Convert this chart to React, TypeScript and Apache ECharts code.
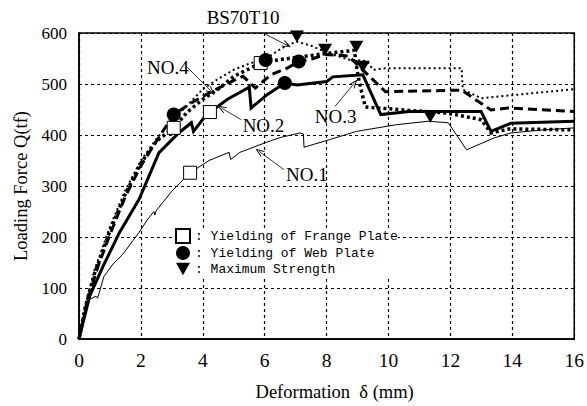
import React, { useEffect, useRef } from "react";
import * as echarts from "echarts";

// Deformation (mm), Loading force (tf)
const no1: [number, number][] = [
  [0, 0], [0.15, 45], [0.35, 78], [0.55, 84], [0.6, 80], [0.65, 90], [0.8, 122], [1.1, 147],
  [1.4, 165], [1.94, 209], [2.2, 233], [2.42, 250], [2.45, 243], [2.5, 252], [3.0, 290],
  [3.59, 326], [4.2, 350], [4.85, 366], [4.9, 352], [5.2, 366], [5.98, 384], [6.5, 395],
  [7.14, 404], [7.25, 402], [7.27, 376], [7.6, 382], [8.1, 391], [8.96, 407], [10.23, 420],
  [11.28, 427], [11.93, 424], [12.52, 371], [13.4, 394], [13.95, 404], [15, 410], [16, 414],
];
const no2: [number, number][] = [
  [0, 0], [0.35, 85], [0.78, 143], [1.31, 209], [1.94, 274], [2.58, 365], [3.22, 404],
  [3.63, 424], [3.7, 407], [4.07, 436], [4.23, 445], [4.8, 470], [5.45, 492], [5.5, 495],
  [5.56, 453], [6.1, 480], [6.65, 502], [7.04, 498], [8.0, 505], [8.2, 514], [9.17, 518],
  [9.75, 440], [10.66, 446], [12.99, 446], [13.31, 407], [13.95, 423], [16, 427],
];
const no3: [number, number][] = [
  [0, 0], [0.2, 62], [0.5, 128], [1, 212], [1.5, 285], [2, 345], [2.5, 388], [3.06, 414],
  [3.5, 445], [4, 470], [4.5, 490], [5, 515], [5.5, 530], [5.87, 541], [6.5, 548], [7, 552],
  [7.5, 556], [8, 560], [8.9, 566], [8.95, 540], [9.05, 505], [9.25, 455], [10.5, 449],
  [11.9, 443], [13, 430], [13.31, 404], [13.9, 412], [16, 410],
];
const no4: [number, number][] = [
  [0, 0], [0.25, 70], [0.6, 140], [1, 205], [1.5, 280], [2, 340], [2.5, 388], [3.06, 440],
  [3.6, 462], [4.28, 485], [5.13, 511], [5.3, 515], [5.7, 492], [6.19, 518], [6.72, 531],
  [7.1, 544], [7.57, 550], [7.95, 558], [8.7, 555], [9.3, 520], [9.9, 485], [12.36, 488],
  [13.31, 449], [13.85, 453], [16, 446],
];
const bs70t10: [number, number][] = [
  [0, 0], [0.2, 65], [0.5, 135], [1, 220], [1.5, 292], [2, 350], [2.5, 392], [3, 428],
  [3.5, 458], [4, 490], [4.5, 510], [5, 528], [5.5, 540], [6.03, 550], [6.5, 568],
  [6.72, 576], [7.04, 583], [7.5, 575], [8, 562], [8.7, 548], [9.3, 545], [9.5, 528],
  [9.9, 531], [12.36, 531], [12.4, 489], [13, 472], [14, 478], [16, 490],
];

const flangeYield: [number, number][] = [[3.59, 326], [4.23, 445], [3.06, 414], [5.87, 541]];
const webYield: [number, number][] = [[3.06, 440], [6.03, 547], [7.1, 544], [6.65, 502]];
const maxStrength: [number, number][] = [[7.04, 593], [7.95, 567], [8.96, 573], [9.17, 534], [11.35, 436]];

const curveLabelNames = ["BS70T10", "NO.4", "NO.2", "NO.1", "NO.3"];
const curveLabelPos: [number, number][] = [[5.3, 631], [2.87, 533], [5.96, 418], [7.36, 322], [8.29, 436]];
const arrowFrom: [number, number][] = [[5.98, 599], [3.48, 534], [5.24, 430], [6.62, 332], [8.27, 456]];
const arrowTo: [number, number][] = [[6.72, 576], [4.28, 485], [4.6, 453], [5.82, 368], [8.9, 502]];

const legendNames = ["Yielding of Frange Plate", "Yielding of Web Plate", "Maximum Strength"];

const SERIF = "'Liberation Serif', 'Times New Roman', serif";

export default function App() {
  const ref = useRef<HTMLDivElement>(null);
  useEffect(() => {
    document.body.style.margin = "0";
    const chart = echarts.init(ref.current!, null, { renderer: "svg" });
    const lineSeries = (name: string, data: [number, number][], width: number, type: any) => ({
      name,
      type: "line",
      data,
      showSymbol: false,
      symbol: "none",
      lineStyle: { color: "#000", width, type, cap: "butt", join: "miter" },
      z: 2,
    });
    chart.setOption({
      animation: false,
      backgroundColor: "#fff",
      grid: { left: 79, top: 33, width: 502, height: 307, show: true, borderColor: "#000", borderWidth: 1.5 },
      xAxis: {
        type: "value",
        min: 0,
        max: 16,
        interval: 2,
        name: "Deformation  δ (mm)",
        nameLocation: "middle",
        nameGap: 43,
        nameTextStyle: { fontFamily: SERIF, fontSize: 18.5, color: "#000", padding: [0, 0, 0, 16] },
        axisLine: { show: true, lineStyle: { color: "#000", width: 1.5 } },
        axisTick: { show: false },
        axisLabel: { fontFamily: SERIF, fontSize: 19.5, color: "#000", margin: 11 },
        splitLine: { show: true, lineStyle: { color: "#000", width: 1.2, type: [3, 3] } },
      },
      yAxis: {
        type: "value",
        min: 0,
        max: 600,
        interval: 100,
        name: "Loading Force Q(tf)",
        nameLocation: "middle",
        nameGap: 42,
        nameTextStyle: { fontFamily: SERIF, fontSize: 18.5, color: "#000" },
        axisLine: { show: true, lineStyle: { color: "#000", width: 1.5 } },
        axisTick: { show: false },
        axisLabel: { fontFamily: SERIF, fontSize: 17, color: "#000", margin: 12 },
        splitLine: { show: true, lineStyle: { color: "#000", width: 1.2, type: [3, 3] } },
      },
      legend: {
        orient: "vertical",
        left: 175,
        top: 228,
        itemWidth: 14,
        itemHeight: 14,
        itemGap: 2,
        padding: 0,
        backgroundColor: "#fff",
        data: [
          { name: legendNames[0], icon: "rect" },
          { name: legendNames[1], icon: "circle" },
          { name: legendNames[2], icon: "path://M0,0L10,0L5,9Z" },
        ],
        formatter: (n: string) => ": " + n,
        textStyle: { fontFamily: "'Liberation Mono', monospace", fontSize: 13, lineHeight: 14, color: "#000" },
      },
      series: [
        lineSeries("NO.1", no1, 1, "solid"),
        lineSeries("NO.2", no2, 3, "solid"),
        lineSeries("NO.3", no3, 3.5, [3, 3]),
        lineSeries("NO.4", no4, 3, [9, 5]),
        lineSeries("BS70T10", bs70t10, 2, [2, 3]),
        {
          name: legendNames[0],
          type: "scatter",
          data: flangeYield,
          symbol: "rect",
          symbolSize: 13,
          itemStyle: { color: "#fff", borderColor: "#000", borderWidth: 1, opacity: 1 },
          z: 5,
        },
        {
          name: legendNames[1],
          type: "scatter",
          data: webYield,
          symbol: "circle",
          symbolSize: 14,
          itemStyle: { color: "#000", opacity: 1 },
          z: 5,
        },
        {
          name: legendNames[2],
          type: "scatter",
          data: maxStrength,
          symbol: "triangle",
          symbolRotate: 180,
          symbolSize: [14, 12],
          itemStyle: { color: "#000", opacity: 1 },
          z: 5,
        },
        {
          name: "labels",
          type: "scatter",
          clip: false,
          symbolSize: 0,
          itemStyle: { color: "#000", opacity: 1 },
          data: curveLabelNames.map((n, i) => ({ name: n, value: curveLabelPos[i] })),
          label: {
            show: true,
            position: "inside",
            formatter: "{b}",
            fontFamily: SERIF,
            fontSize: 19,
            color: "#000",
            opacity: 1,
          },
          markLine: {
            silent: true,
            symbol: ["none", "path://M0,10L5,0L10,10L8.6,10L5,2.8L1.4,10Z"],
            symbolSize: [7, 9],
            label: { show: false },
            lineStyle: { color: "#000", width: 0.8, type: "solid", opacity: 1 },
            data: arrowFrom.map((f, i) => [{ coord: f }, { coord: arrowTo[i] }]),
          },
          z: 6,
        },
      ],
    });
    return () => chart.dispose();
  }, []);
  return <div ref={ref} style={{ width: 587, height: 406 }} />;
}
